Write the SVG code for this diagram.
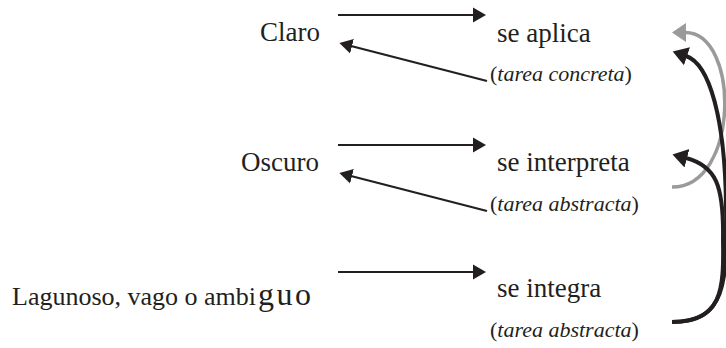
<svg xmlns="http://www.w3.org/2000/svg" width="726" height="348" viewBox="0 0 726 348">
<style>
.t{font-family:"Liberation Serif","Times New Roman",serif;fill:#231f20;font-size:27px}
.i{font-family:"Liberation Serif","Times New Roman",serif;fill:#231f20;font-size:22px}
.i tspan.it{font-style:italic}
.ln{stroke:#231f20;stroke-width:2.2;fill:none}
.cb{stroke:#231f20;stroke-width:4;fill:none}
.cg{stroke:#9a9a9a;stroke-width:3.5;fill:none}
</style>
<defs>
<marker id="ah" viewBox="0 -10 16 20" refX="1" refY="0" markerWidth="16" markerHeight="20" markerUnits="userSpaceOnUse" orient="auto">
<path d="M0,-7.5 L13,0 L0,7.5 z" fill="#231f20"/>
</marker>
<marker id="ahb" viewBox="0 -12 18 24" refX="1" refY="0" markerWidth="18" markerHeight="24" markerUnits="userSpaceOnUse" orient="auto">
<path d="M0,-9.5 L15,0 L0,9.5 z" fill="#231f20"/>
</marker>
<marker id="ahg" viewBox="0 -12 18 24" refX="1" refY="0" markerWidth="18" markerHeight="24" markerUnits="userSpaceOnUse" orient="auto">
<path d="M0,-9.5 L14,0 L0,9.5 z" fill="#9a9a9a"/>
</marker>
</defs>

<g id="n-claro"><text class="t" x="320" y="41" text-anchor="end">Claro</text></g>
<g id="n-oscuro"><text class="t" x="319" y="171" text-anchor="end">Oscuro</text></g>
<g id="n-lagunoso"><text class="t" x="12" y="305" style="font-size:26px">Lagunoso, vago o ambi<tspan dx="2" style="font-size:32px;letter-spacing:2.5px">guo</tspan></text></g>

<g id="n-aplica">
<text class="t" x="497" y="42">se aplica</text>
<text class="i" x="490" y="81">(<tspan class="it">tarea concreta</tspan>)</text>
</g>
<g id="n-interpreta">
<text class="t" x="497" y="171">se interpreta</text>
<text class="i" x="490" y="211">(<tspan class="it">tarea abstracta</tspan>)</text>
</g>
<g id="n-integra">
<text class="t" x="497" y="297">se integra</text>
<text class="i" x="490" y="337">(<tspan class="it">tarea abstracta</tspan>)</text>
</g>

<g id="connectors">
<line class="ln" x1="338" y1="15" x2="474" y2="15" marker-end="url(#ah)"/>
<line class="ln" x1="487" y1="81" x2="351" y2="46" marker-end="url(#ah)"/>
<line class="ln" x1="338" y1="145" x2="474" y2="145" marker-end="url(#ah)"/>
<line class="ln" x1="487" y1="211" x2="351" y2="176" marker-end="url(#ah)"/>
<line class="ln" x1="338" y1="272" x2="474" y2="272" marker-end="url(#ah)"/>

<path class="cg" d="M672,187 C740,187 740,32 685,32.5" marker-end="url(#ahg)"/>
<path class="cb" d="M672,322 C725,322 728,285 726,205 C725,120 710,64 686,56" marker-end="url(#ahb)"/>
<path class="cb" d="M672,322 C722,322 724,290 723,240 C724,185 716,166 686,158" marker-end="url(#ahb)"/>
</g>
</svg>
